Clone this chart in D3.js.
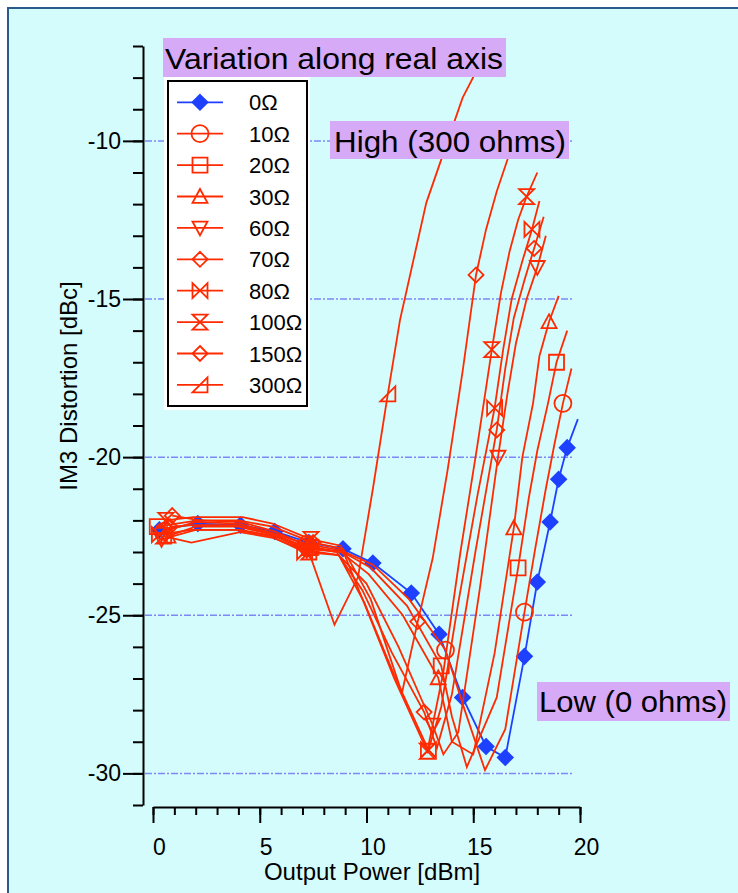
<!DOCTYPE html>
<html><head><meta charset="utf-8">
<script src="https://cdn.jsdelivr.net/npm/d3@7"></script>
<style>body{margin:0;background:#fff}svg{display:block}</style>
</head><body>
<svg id="chart" width="738" height="893"></svg>
<script>
// ---------- data ----------
const seriesNames = ["0Ω","10Ω","20Ω","30Ω","60Ω","70Ω","80Ω","100Ω","150Ω","300Ω"];
const ohm0 = [[0.3,-22.3],[2.1,-22.1],[4.1,-22.15],[5.7,-22.35],[7.3,-22.7],[8.9,-22.9],[10.3,-23.35],[12.1,-24.3],[13.4,-25.6],[14.5,-27.6],[15.6,-29.15],[16.5,-29.5],[17.4,-26.3],[18.0,-23.95],[18.6,-22.05],[19.0,-20.7],[19.4,-19.7],[19.9,-18.8]];
const ohm10 = [[0.5,-22.35],[2.0,-22.05],[4.0,-22.1],[5.6,-22.4],[7.2,-22.75],[8.8,-22.95],[10.3,-23.4],[12.0,-24.5],[13.7,-26.1],[14.6,-28.0],[15.55,-29.9],[16.5,-28.6],[17.4,-24.9],[17.9,-22.9],[18.4,-21.0],[18.8,-19.6],[19.2,-18.3],[19.6,-17.2]];
const ohm20 = [[0.2,-22.2],[2.1,-22.0],[4.1,-22.05],[5.7,-22.35],[7.4,-22.85],[8.9,-23.0],[10.2,-23.5],[11.9,-24.7],[13.5,-26.6],[14.0,-28.2],[14.7,-29.8],[16.1,-27.6],[17.1,-23.5],[17.6,-21.3],[18.0,-19.8],[18.5,-18.3],[18.9,-17.0],[19.4,-16.0]];
const ohm30 = [[0.7,-22.5],[2.0,-22.2],[4.0,-22.2],[5.6,-22.45],[7.3,-22.9],[8.8,-23.0],[10.1,-23.7],[11.7,-25.0],[13.36,-26.98],[14.0,-29.0],[15.0,-29.4],[16.0,-26.2],[16.9,-22.24],[17.3,-20.0],[17.8,-18.3],[18.1,-16.8],[18.55,-15.72],[19.0,-14.9]];
const ohm60 = [[0.4,-22.6],[2.0,-22.3],[4.1,-22.3],[5.7,-22.5],[7.2,-22.95],[8.7,-23.1],[10.0,-24.0],[11.5,-26.0],[13.1,-28.47],[13.6,-29.4],[14.3,-28.7],[15.3,-24.2],[16.16,-20.0],[16.6,-18.0],[17.0,-16.4],[17.5,-15.0],[18.0,-14.0],[18.4,-13.0]];
const ohm70 = [[0.8,-22.2],[1.9,-22.15],[3.9,-22.15],[5.5,-22.4],[7.0,-22.8],[8.6,-23.0],[9.8,-24.2],[11.2,-26.2],[12.7,-28.06],[13.3,-29.2],[14.0,-27.5],[15.1,-23.0],[16.1,-19.14],[16.5,-17.2],[16.9,-15.6],[17.4,-14.4],[17.85,-13.4],[18.3,-12.4]];
const ohm80 = [[0.3,-22.45],[1.8,-22.3],[3.9,-22.3],[5.5,-22.5],[7.1,-23.0],[8.7,-23.1],[9.9,-24.6],[11.3,-26.9],[12.9,-29.26],[13.5,-27.9],[14.3,-24.6],[15.2,-21.2],[16.0,-18.45],[16.4,-16.6],[16.8,-15.0],[17.3,-13.8],[17.75,-12.8],[18.1,-11.9]];
const ohm100 = [[0.6,-22.0],[1.9,-21.9],[4.2,-21.9],[5.6,-22.1],[7.4,-22.6],[8.8,-22.8],[10.0,-24.8],[11.3,-27.0],[12.85,-29.3],[13.6,-26.8],[14.4,-23.0],[15.2,-19.6],[15.87,-16.6],[16.3,-14.8],[16.7,-13.5],[17.1,-12.5],[17.5,-11.76],[18.0,-11.0]];
const ohm150 = [[0.9,-21.85],[2.2,-22.0],[4.0,-22.0],[5.6,-22.2],[7.5,-22.7],[8.9,-22.9],[10.2,-24.5],[11.66,-27.46],[12.4,-25.2],[13.1,-23.2],[13.8,-20.4],[14.5,-17.3],[15.13,-14.24],[15.6,-12.8],[16.1,-11.6],[16.6,-10.6],[17.0,-9.7]];
const ohm300 = [[0.5,-22.5],[1.8,-22.7],[4.07,-22.37],[5.6,-22.55],[7.3,-23.0],[8.5,-25.3],[9.6,-23.8],[10.3,-21.0],[11.0,-18.0],[11.57,-15.66],[12.8,-11.96],[14.5,-8.64],[15.6,-7.2],[16.0,-6.9]];
const xTickValues = [0,5,10,15,20];
const yTickValues = [-10,-15,-20,-25,-30];
const gridValues = [-10,-15,-20,-25,-30];
const titleText = "Variation along real axis";
const highText = "High (300 ohms)";
const lowText = "Low (0 ohms)";
const xLabel = "Output Power [dBm]";
const yLabel = "IM3 Distortion [dBc]";

// ---------- styles ----------
const RED = "#ff2a00", BLUE = "#1e40ff";
const seriesData = [ohm0,ohm10,ohm20,ohm30,ohm60,ohm70,ohm80,ohm100,ohm150,ohm300];
const seriesStyle = [
  {color:BLUE, marker:"diamondFilled", every:1},
  {color:RED, marker:"circle", every:4},
  {color:RED, marker:"square", every:4},
  {color:RED, marker:"triUp", every:4},
  {color:RED, marker:"triDown", every:4},
  {color:RED, marker:"diamond", every:4},
  {color:RED, marker:"bowtie", every:4},
  {color:RED, marker:"hourglass", every:4},
  {color:RED, marker:"diamond", every:4},
  {color:RED, marker:"rightTri", every:4}
];
const FONT = "'Liberation Sans', Arial, sans-serif";

function markerPath(type){
  const r = 7.5;
  switch(type){
    case "circle": return d3.symbol(d3.symbolCircle, Math.PI*8.5*8.5)();
    case "square": return `M${-r},${-r}H${r}V${r}H${-r}Z`;
    case "triUp": return `M0,${-r}L${r},${r*0.85}L${-r},${r*0.85}Z`;
    case "triDown": return `M0,${r}L${r},${-r*0.85}L${-r},${-r*0.85}Z`;
    case "diamond": case "diamondFilled": return `M0,${-r}L${r},0L0,${r}L${-r},0Z`;
    case "bowtie": return `M${-r},${-r}L${r},${r}L${r},${-r}L${-r},${r}Z`;
    case "hourglass": return `M${-r},${-r}L${r},${-r}L${-r},${r}L${r},${r}Z`;
    case "rightTri": return `M${-r},${r}L${r},${r}L${r},${-r}Z`;
  }
}

const svg = d3.select("#chart");
svg.append("rect").attr("x",0).attr("y",0).attr("width",738).attr("height",893).attr("fill","#fff");
svg.append("rect").attr("x",8).attr("y",8).attr("width",740).attr("height",900)
  .attr("fill","#d4fcfd").attr("stroke","#2b5b8c").attr("stroke-width",2);

const x = d3.scaleLinear().domain([0,20]).range([153,580]);
const y = d3.scaleLinear().domain([-31,-7]).range([805,46]);

// grid
svg.append("g").selectAll("line").data(gridValues).join("line")
  .attr("x1",145).attr("x2",573).attr("y1",d=>y(d)).attr("y2",d=>y(d))
  .attr("stroke","#7f86f5").attr("stroke-width",1.5).attr("stroke-dasharray","7,2,2,2");

// y axis
const yMinor = d3.axisLeft(y).tickValues(d3.range(-31,-6,1)).tickSize(10).tickFormat("").tickSizeOuter(0);
const yMajor = d3.axisLeft(y).tickValues(yTickValues).tickSize(20).tickPadding(2).tickSizeOuter(0).tickFormat(d=>String(d));
svg.append("g").attr("transform","translate(143,0)").call(yMinor);
const gy2 = svg.append("g").attr("transform","translate(143,0)").call(yMajor);
gy2.select(".domain").remove();
// x axis
const xMinor = d3.axisBottom(x).tickValues(d3.range(0,21,1)).tickSize(8).tickFormat("").tickSizeOuter(0);
const xMajor = d3.axisBottom(x).tickValues(xTickValues).tickSize(16).tickPadding(16).tickSizeOuter(0).tickFormat(d=>String(d));
svg.append("g").attr("transform","translate(0,807)").call(xMinor);
const gx2 = svg.append("g").attr("transform","translate(0,807)").call(xMajor);
gx2.select(".domain").remove();
svg.selectAll(".domain, .tick line").attr("stroke","#000").attr("stroke-width",2);
gy2.selectAll("text").attr("font-family",FONT).attr("font-size",23).attr("fill","#000");
gx2.selectAll("text").attr("font-family",FONT).attr("font-size",23).attr("fill","#000").attr("dx",6);

// axis labels
svg.append("text").attr("x",372).attr("y",880).attr("text-anchor","middle")
  .attr("font-family",FONT).attr("font-size",24).text(xLabel);
svg.append("text").attr("transform","translate(77,386) rotate(-90)").attr("text-anchor","middle")
  .attr("font-family",FONT).attr("font-size",24).text(yLabel);

// series
const line = d3.line().x(d=>x(d[0])).y(d=>y(d[1]));
seriesData.forEach((data,i)=>{
  const st = seriesStyle[i];
  const g = svg.append("g");
  g.append("path").attr("d",line(data)).attr("fill","none").attr("stroke",st.color)
    .attr("stroke-width",1.8).attr("stroke-linejoin","miter");
  const mk = data.filter((d,j)=> j%st.every===0 && j<data.length-1);
  g.selectAll("path.m").data(mk).join("path").attr("class","m")
    .attr("transform",d=>`translate(${x(d[0])},${y(d[1])})`)
    .attr("d",markerPath(st.marker))
    .attr("fill",st.marker==="diamondFilled"?st.color:"none")
    .attr("stroke",st.color).attr("stroke-width",1.8);
});

// legend
svg.append("rect").attr("x",164).attr("y",77).attr("width",146).attr("height",333).attr("fill","#fff");
svg.append("rect").attr("x",168).attr("y",81).attr("width",139).attr("height",325)
  .attr("fill","#fff").attr("stroke","#000").attr("stroke-width",2);
seriesNames.forEach((name,i)=>{
  const st = seriesStyle[i];
  const cy = 102.3 + i*31.4;
  const g = svg.append("g");
  g.append("line").attr("x1",177).attr("x2",223).attr("y1",cy).attr("y2",cy)
    .attr("stroke",st.color).attr("stroke-width",1.8);
  g.append("path").attr("transform",`translate(200,${cy})`).attr("d",markerPath(st.marker))
    .attr("fill",st.marker==="diamondFilled"?st.color:"none").attr("stroke",st.color).attr("stroke-width",1.8);
  g.append("text").attr("x",249).attr("y",cy+8).attr("font-family",FONT).attr("font-size",22)
    .attr("fill","#000").text(name);
});

// annotations
function note(txt, bx, by, bw, bh, tx, ty, fs, tl){
  svg.append("rect").attr("x",bx).attr("y",by).attr("width",bw).attr("height",bh).attr("fill","#d7aaf8");
  svg.append("text").attr("x",tx).attr("y",ty).attr("font-family",FONT).attr("font-size",fs)
    .attr("textLength",tl).attr("lengthAdjust","spacingAndGlyphs").attr("fill","#000").text(txt);
}
note(titleText,163,38,343,39,165,69,30,338);
note(highText,330,121,239,38,334,152,30,232);
note(lowText,537,682,193,39,539,712,30,188);
</script>
</body></html>
